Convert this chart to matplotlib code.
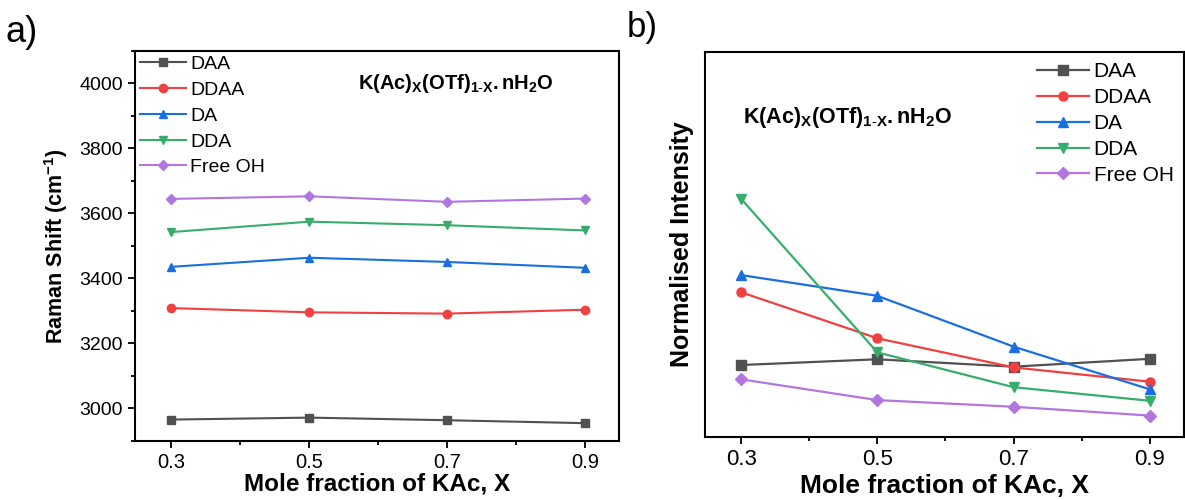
import matplotlib
matplotlib.use('Agg')
import matplotlib.pyplot as plt
from matplotlib.ticker import MultipleLocator, NullLocator

plt.rcParams['font.family'] = ['Liberation Sans', 'DejaVu Sans']
plt.rcParams['mathtext.fontset'] = 'custom'
plt.rcParams['mathtext.rm'] = 'Liberation Sans'
plt.rcParams['mathtext.it'] = 'Liberation Sans:italic'
plt.rcParams['mathtext.bf'] = 'Liberation Sans:bold'

# data
x_frac = [0.3, 0.5, 0.7, 0.9]
labels = ['DAA', 'DDAA', 'DA', 'DDA', 'Free OH']

# a) Raman shift, cm-1
shift_daa = [2965, 2971, 2963, 2954]
shift_ddaa = [3308, 3295, 3291, 3303]
shift_da = [3435, 3463, 3450, 3432]
shift_dda = [3542, 3574, 3563, 3547]
shift_free = [3644, 3652, 3635, 3645]

# b) normalised intensity (arbitrary units)
int_daa = [0.303, 0.327, 0.296, 0.329]
int_ddaa = [0.608, 0.415, 0.293, 0.233]
int_da = [0.680, 0.593, 0.380, 0.201]
int_dda = [1.000, 0.356, 0.210, 0.153]
int_free = [0.243, 0.156, 0.128, 0.091]

colors = ['#515151', '#F14040', '#1A6FDF', '#37AD6B', '#B177DE']
markers = ['s', 'o', '^', 'v', 'D']
title_txt = r'$\mathbf{K(Ac)_{X}(OTf)_{1\text{-}X}.nH_{2}O}$'


def style_axes(ax, xtick_size, ytick_size):
    for s in ax.spines.values():
        s.set_linewidth(1.5)
    ax.tick_params(which='major', direction='out', length=5, width=1.3,
                   top=False, right=False)
    ax.tick_params(which='minor', direction='out', length=3, width=1.3,
                   top=False, right=False)
    ax.tick_params(axis='x', labelsize=xtick_size)
    ax.tick_params(axis='y', labelsize=ytick_size)
    ax.set_xlim(0.247, 0.95)
    ax.set_xticks(x_frac)
    ax.set_xticklabels(['0.3', '0.5', '0.7', '0.9'])
    ax.xaxis.set_minor_locator(MultipleLocator(0.1))


fig = plt.figure(figsize=(11.85, 5), dpi=100)

# ---- panel a
ax1 = fig.add_axes([0.1139, 0.1186, 0.4087, 0.78])
series_a = [shift_daa, shift_ddaa, shift_da, shift_dda, shift_free]
for ys, lab, c, m in zip(series_a, labels, colors, markers):
    ax1.plot(x_frac, ys, color=c, marker=m, markersize=6 if m != 'D' else 5.5,
             linewidth=1.5, label=lab)
style_axes(ax1, 14.5, 14)
ax1.set_ylim(2900, 4100)
ax1.yaxis.set_major_locator(MultipleLocator(200))
ax1.yaxis.set_minor_locator(MultipleLocator(100))
ax1.set_xlabel('Mole fraction of KAc, X', fontsize=17.5, fontweight='bold', labelpad=1)
ax1.set_ylabel(r'Raman Shift (cm$^{\mathbf{-1}}$)', fontsize=15.5, fontweight='bold', labelpad=7)
ax1.legend(loc='upper left', bbox_to_anchor=(0.0, 1.0), frameon=False, fontsize=14,
           handlelength=2.4, handletextpad=0.2, labelspacing=0.42, borderaxespad=0.15,
           borderpad=0.1)
ax1.text(0.46, 0.915, title_txt, transform=ax1.transAxes, fontsize=14.5,
         va='center', ha='left')

# ---- panel b
ax2 = fig.add_axes([0.5949, 0.1254, 0.4042, 0.771])
series_b = [int_daa, int_ddaa, int_da, int_dda, int_free]
for ys, lab, c, m in zip(series_b, labels, colors, markers):
    ax2.plot(x_frac, ys, color=c, marker=m, markersize=6.5 if m != 'D' else 6,
             linewidth=1.6, label=lab)
style_axes(ax2, 16, 16)
ax2.set_ylim(0, 1.616)
ax2.yaxis.set_major_locator(NullLocator())
ax2.set_xlabel('Mole fraction of KAc, X', fontsize=19, fontweight='bold', labelpad=3)
ax2.set_ylabel('Normalised Intensity', fontsize=18, fontweight='bold', labelpad=8)
ax2.legend(loc='upper right', bbox_to_anchor=(1.0, 1.0), frameon=False, fontsize=15,
           handlelength=2.5, handletextpad=0.2, labelspacing=0.33, borderaxespad=0.3,
           borderpad=0.2)
ax2.text(0.08, 0.83, title_txt, transform=ax2.transAxes, fontsize=15.5,
         va='center', ha='left')

fig.text(0.005, 0.936, 'a)', fontsize=26, va='center', ha='left')
fig.text(0.529, 0.946, 'b)', fontsize=25, va='center', ha='left')

fig.savefig('out.png', dpi=100)
